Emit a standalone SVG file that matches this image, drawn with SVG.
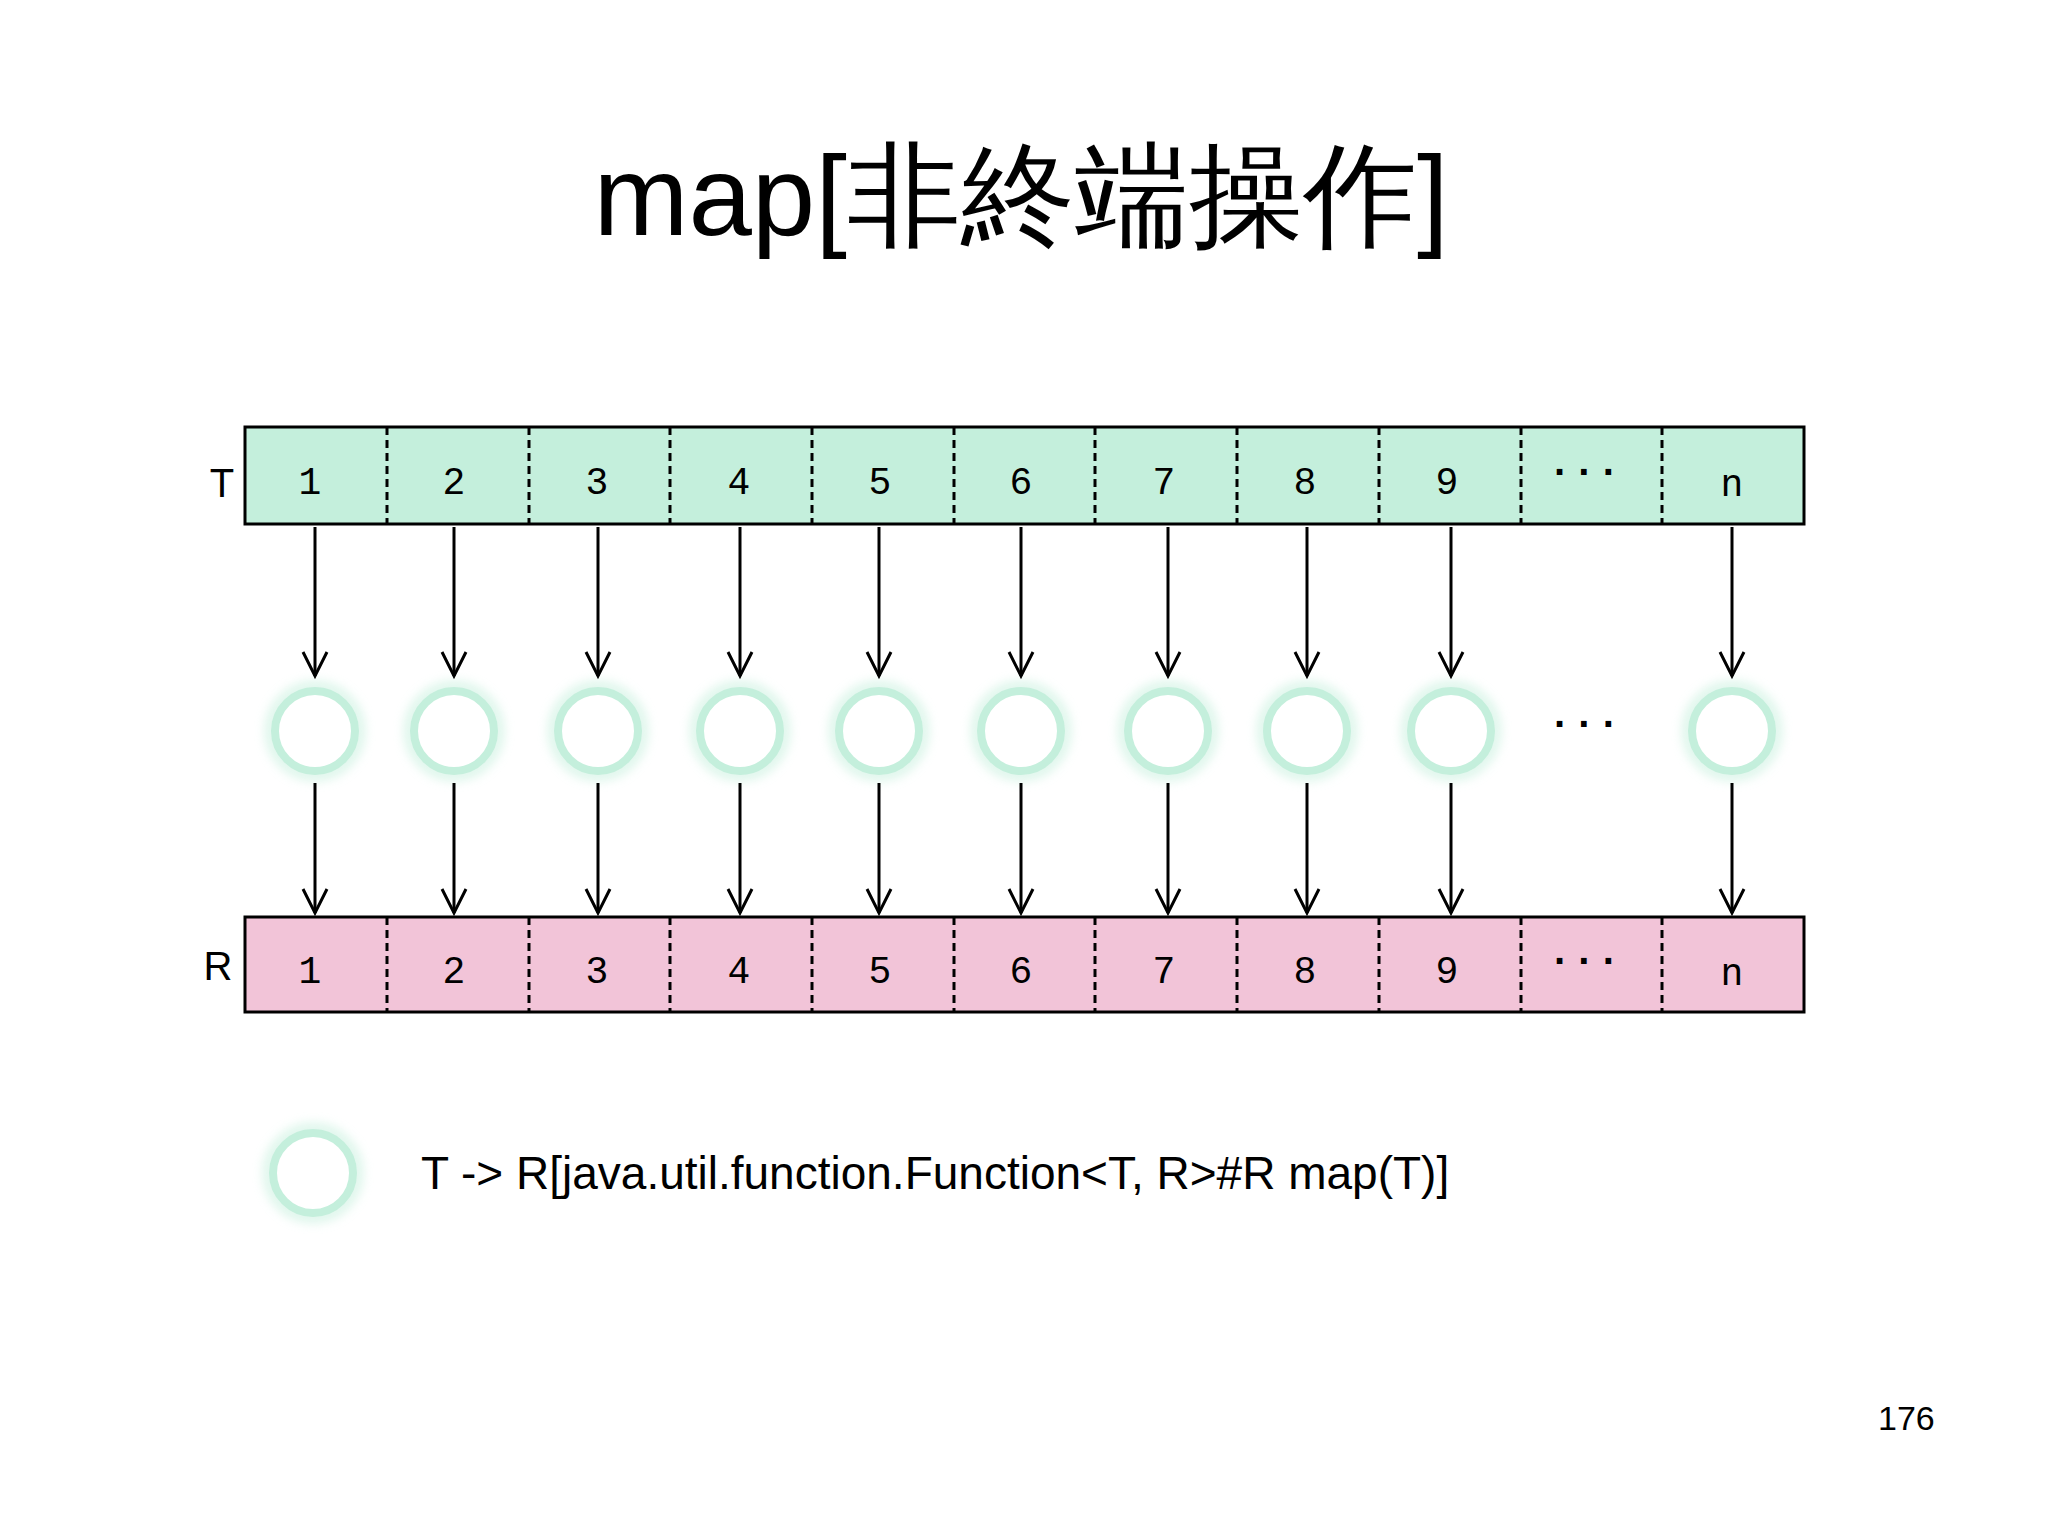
<svg xmlns="http://www.w3.org/2000/svg" width="2048" height="1535" viewBox="0 0 2048 1535">
<style>
.lbl{font-family:"Liberation Sans",Arial,sans-serif;fill:#000}
.num{font-family:"Liberation Mono","DejaVu Sans Mono",monospace;font-size:38px;text-anchor:middle;fill:#000}
.dots{font-family:"Liberation Sans",Arial,sans-serif;font-size:40px;font-weight:bold;text-anchor:middle;fill:#000}
.box{stroke:#000;stroke-width:3}
.div{stroke:#000;stroke-width:3;stroke-dasharray:8,5}
.ring{fill:#fff;stroke:#c4efdc;stroke-width:8}
.glow{fill:none;stroke:#c4efdc;stroke-width:18;opacity:0.5;filter:url(#blur)}
.con{stroke:#000;stroke-width:3;fill:none;marker-end:url(#v)}
</style>
<defs>
<filter id="blur" x="-50%" y="-50%" width="200%" height="200%"><feGaussianBlur stdDeviation="5"/></filter>
<marker id="v" markerWidth="30" markerHeight="30" refX="26" refY="15" orient="auto" markerUnits="userSpaceOnUse" viewBox="0 0 30 30">
<path d="M2,3 L26,15 L2,27" fill="none" stroke="#000" stroke-width="3"/>
</marker>
</defs>
<rect width="2048" height="1535" fill="#fff"/>
<text class="lbl" x="1021" y="235" font-size="114" text-anchor="middle" font-family="'Liberation Sans','Noto Sans CJK JP',sans-serif">map[非終端操作]</text>
<g id="T">
<text class="lbl" x="222" y="497" font-size="40" text-anchor="middle">T</text>
<rect class="box" x="245" y="427" width="1559" height="97" fill="#c4efdc"/>
<g class="div"><line x1="387" y1="427" x2="387" y2="524"/><line x1="529" y1="427" x2="529" y2="524"/><line x1="670" y1="427" x2="670" y2="524"/><line x1="812" y1="427" x2="812" y2="524"/><line x1="954" y1="427" x2="954" y2="524"/><line x1="1095" y1="427" x2="1095" y2="524"/><line x1="1237" y1="427" x2="1237" y2="524"/><line x1="1379" y1="427" x2="1379" y2="524"/><line x1="1521" y1="427" x2="1521" y2="524"/><line x1="1662" y1="427" x2="1662" y2="524"/></g>
<text class="num" x="310" y="494">1</text><text class="num" x="454" y="494">2</text><text class="num" x="597" y="494">3</text><text class="num" x="739" y="494">4</text><text class="num" x="880" y="494">5</text><text class="num" x="1021" y="494">6</text><text class="num" x="1164" y="494">7</text><text class="num" x="1305" y="494">8</text><text class="num" x="1447" y="494">9</text><text class="dots" x="1585" y="486">· · ·</text><text class="num" x="1732" y="496">n</text>
</g>
<g id="R">
<text class="lbl" x="218" y="980" font-size="40" text-anchor="middle">R</text>
<rect class="box" x="245" y="917" width="1559" height="95" fill="#f2c4d8"/>
<g class="div"><line x1="387" y1="917" x2="387" y2="1012"/><line x1="529" y1="917" x2="529" y2="1012"/><line x1="670" y1="917" x2="670" y2="1012"/><line x1="812" y1="917" x2="812" y2="1012"/><line x1="954" y1="917" x2="954" y2="1012"/><line x1="1095" y1="917" x2="1095" y2="1012"/><line x1="1237" y1="917" x2="1237" y2="1012"/><line x1="1379" y1="917" x2="1379" y2="1012"/><line x1="1521" y1="917" x2="1521" y2="1012"/><line x1="1662" y1="917" x2="1662" y2="1012"/></g>
<text class="num" x="310" y="983">1</text><text class="num" x="454" y="983">2</text><text class="num" x="597" y="983">3</text><text class="num" x="739" y="983">4</text><text class="num" x="880" y="983">5</text><text class="num" x="1021" y="983">6</text><text class="num" x="1164" y="983">7</text><text class="num" x="1305" y="983">8</text><text class="num" x="1447" y="983">9</text><text class="dots" x="1585" y="975">· · ·</text><text class="num" x="1732" y="985">n</text>
</g>
<g id="functions">
<g id="f1"><circle class="glow" cx="315" cy="731" r="42"/><circle class="ring" cx="315" cy="731" r="40"/></g>
<g id="f2"><circle class="glow" cx="454" cy="731" r="42"/><circle class="ring" cx="454" cy="731" r="40"/></g>
<g id="f3"><circle class="glow" cx="598" cy="731" r="42"/><circle class="ring" cx="598" cy="731" r="40"/></g>
<g id="f4"><circle class="glow" cx="740" cy="731" r="42"/><circle class="ring" cx="740" cy="731" r="40"/></g>
<g id="f5"><circle class="glow" cx="879" cy="731" r="42"/><circle class="ring" cx="879" cy="731" r="40"/></g>
<g id="f6"><circle class="glow" cx="1021" cy="731" r="42"/><circle class="ring" cx="1021" cy="731" r="40"/></g>
<g id="f7"><circle class="glow" cx="1168" cy="731" r="42"/><circle class="ring" cx="1168" cy="731" r="40"/></g>
<g id="f8"><circle class="glow" cx="1307" cy="731" r="42"/><circle class="ring" cx="1307" cy="731" r="40"/></g>
<g id="f9"><circle class="glow" cx="1451" cy="731" r="42"/><circle class="ring" cx="1451" cy="731" r="40"/></g>
<text class="dots" x="1585" y="738">· · ·</text>
<g id="fn"><circle class="glow" cx="1732" cy="731" r="42"/><circle class="ring" cx="1732" cy="731" r="40"/></g>
</g>
<g id="connectors">
<line class="con" x1="315" y1="527" x2="315" y2="676"/><line class="con" x1="454" y1="527" x2="454" y2="676"/><line class="con" x1="598" y1="527" x2="598" y2="676"/><line class="con" x1="740" y1="527" x2="740" y2="676"/><line class="con" x1="879" y1="527" x2="879" y2="676"/><line class="con" x1="1021" y1="527" x2="1021" y2="676"/><line class="con" x1="1168" y1="527" x2="1168" y2="676"/><line class="con" x1="1307" y1="527" x2="1307" y2="676"/><line class="con" x1="1451" y1="527" x2="1451" y2="676"/><line class="con" x1="1732" y1="527" x2="1732" y2="676"/>
<line class="con" x1="315" y1="783" x2="315" y2="913"/><line class="con" x1="454" y1="783" x2="454" y2="913"/><line class="con" x1="598" y1="783" x2="598" y2="913"/><line class="con" x1="740" y1="783" x2="740" y2="913"/><line class="con" x1="879" y1="783" x2="879" y2="913"/><line class="con" x1="1021" y1="783" x2="1021" y2="913"/><line class="con" x1="1168" y1="783" x2="1168" y2="913"/><line class="con" x1="1307" y1="783" x2="1307" y2="913"/><line class="con" x1="1451" y1="783" x2="1451" y2="913"/><line class="con" x1="1732" y1="783" x2="1732" y2="913"/>
</g>
<g id="legend">
<circle class="glow" cx="313" cy="1173" r="42"/><circle class="ring" cx="313" cy="1173" r="40"/>
<text class="lbl" x="421" y="1189" font-size="46">T -&gt; R[java.util.function.Function&lt;T, R&gt;#R map(T)]</text>
</g>
<text class="lbl" x="1878" y="1430" font-size="34">176</text>
</svg>
